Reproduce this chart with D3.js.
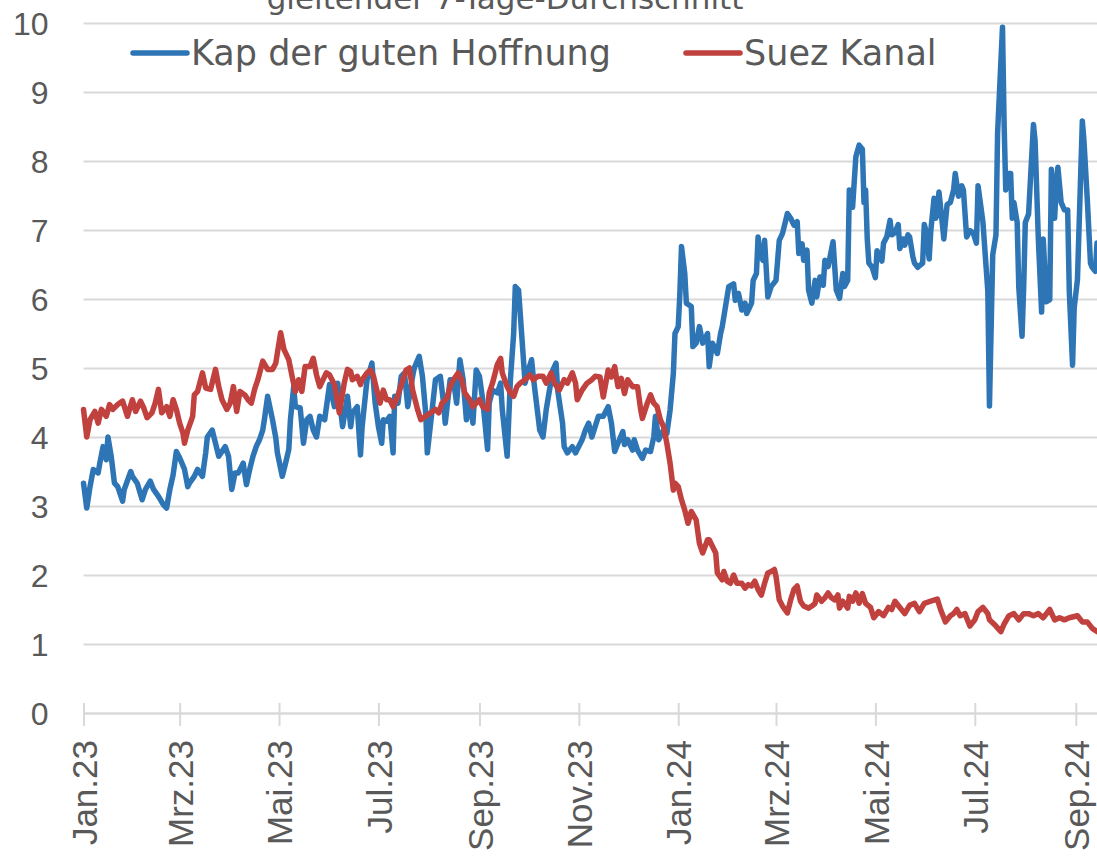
<!DOCTYPE html>
<html lang="de">

<head>
  <meta charset="UTF-8">
  <title>Kap der guten Hoffnung vs. Suez Kanal</title>

  <style>
    body {
      margin: 0;
      background: #fff;
    }

    svg {
      display: block;
      font-family: "DejaVu Sans", sans-serif;
    }

    .grid line {
      stroke: #d9d9d9;
      stroke-width: 2;
    }

    .axis text {
      fill: #595959;
      font-size: 32px;
    }

    .x-axis text {
      font-size: 35px;
    }

    .series {
      fill: none;
      stroke-width: 5.5;
      stroke-linejoin: round;
      stroke-linecap: round;
    }

    .legend text {
      fill: #595959;
      font-size: 35px;
    }
  </style>
</head>

<body>
  <div id="chart"></div>

  <script src="https://cdn.jsdelivr.net/npm/d3@7"></script>

  <script>
    // data: [Tage seit 01.01.2023, Wert], gleitender 7-Tage-Durchschnitt
    const titleText = "gleitender 7-Tage-Durchschnitt";
    const seriesNames = ["Kap der guten Hoffnung", "Suez Kanal"];
    const seriesColors = ["#2e75b6", "#c0413d"];
    const monthNames = ["Jan", "Feb", "Mrz", "Apr", "Mai", "Jun", "Jul", "Aug", "Sep", "Okt", "Nov", "Dez"];
    const yTicks = [0, 1, 2, 3, 4, 5, 6, 7, 8, 9, 10];
    const startDate = new Date(2023, 0, 1);
    const lastDay = 622;

    const kap = [[0,3.33],[2,2.97],[4,3.28],[6,3.53],[9,3.48],[10,3.62],[12,3.86],[14,3.67],[15,4.0],[17,3.72],[19,3.33],[21,3.28],[24,3.07],[25,3.24],[29,3.5],[30,3.43],[33,3.33],[36,3.09],[38,3.24],[41,3.36],[43,3.24],[46,3.14],[49,3.02],[51,2.97],[53,3.24],[55,3.45],[57,3.79],[59,3.70],[62,3.53],[64,3.28],[65,3.33],[68,3.43],[70,3.53],[73,3.43],[75,3.77],[76,4.0],[79,4.1],[81,3.91],[83,3.72],[87,3.86],[89,3.72],[91,3.24],[93,3.48],[95,3.48],[98,3.62],[100,3.31],[102,3.53],[104,3.72],[106,3.86],[108,3.96],[110,4.1],[111,4.25],[113,4.59],[116,4.25],[118,3.99],[119,3.77],[122,3.43],[124,3.62],[126,3.82],[127,4.25],[129,4.73],[130,4.44],[133,4.42],[135,3.91],[137,4.25],[139,4.3],[141,4.1],[143,4.0],[145,4.3],[148,4.25],[151,4.76],[154,4.44],[156,4.78],[159,4.15],[162,4.59],
      [164,4.15],[165,4.35],[168,4.44],[170,3.74],[171,4.15],[174,4.83],[177,5.07],[179,4.49],[181,4.15],[183,3.91],[184,4.25],[186,4.23],[188,4.3],[190,3.77],[191,4.59],[193,4.49],[195,4.88],[197,4.93],[199,4.44],[202,4.88],[203,5.0],[206,5.17],[208,4.88],[210,4.35],[211,3.77],[214,4.4],[216,4.83],[219,4.88],[221,4.49],[222,4.2],[225,4.83],[227,4.83],[229,4.49],[231,5.12],[233,4.83],[235,4.25],[237,4.54],[239,4.2],[241,4.97],[243,4.88],[245,4.54],[248,3.82],[249,4.49],[251,4.68],[254,4.64],[256,4.78],[257,4.4],[260,3.72],[262,4.83],[264,5.5],[265,6.18],[267,6.13],[269,5.46],[271,4.78],[273,4.97],[275,5.12],[276,4.88],[278,4.49],[280,4.1],[282,4.0],[284,4.4],[286,4.68],[288,4.97],[290,5.07],[291,4.68],[294,4.2],[295,3.86],[297,3.77],[300,3.86],[302,3.77],[303,3.82],[306,3.96],[308,4.1],[310,4.2],[312,4.0],[314,4.15],[316,4.3],
      [319,4.3],[322,4.44],[324,4.2],[326,3.79],[328,3.91],[331,4.08],[332,3.89],[334,3.96],[337,3.81],[338,3.96],[340,3.81],[343,3.69],[345,3.81],[348,3.79],[350,4.0],[351,4.3],[353,3.96],[356,4.1],[358,4.05],[360,4.39],[362,4.92],[363,5.5],[365,5.6],[366,6.08],[367,6.76],[369,6.37],[370,5.94],[373,5.89],[374,5.31],[376,5.36],[378,5.6],[380,5.36],[381,5.4],[383,5.5],[384,5.02],[386,5.36],[389,5.21],[391,5.5],[392,5.6],[394,5.89],[396,6.18],[399,6.22],[400,5.98],[402,6.08],[404,5.84],[406,5.94],[407,5.79],[410,5.94],[411,6.27],[413,6.37],[414,6.9],[415,6.66],[417,6.56],[418,6.85],[420,6.03],[422,6.18],[425,6.27],[427,6.85],[429,6.95],[432,7.24],[434,7.17],[436,7.07],[438,7.12],[439,6.66],[441,6.8],[442,6.56],[444,6.71],[445,6.13],[447,5.94],[449,6.27],[450,6.03],[452,6.32],[454,6.2],[455,6.56],[457,6.47],[460,6.83],[462,6.13],[464,6.01],[466,6.37],[467,6.18],[469,6.27],
      [470,7.58],[472,7.33],[474,8.06],[476,8.23],[478,8.17],[479,7.4],[480,7.58],[481,6.87],[482,6.52],[484,6.46],[486,6.31],[487,6.7],[490,6.55],[491,6.81],[493,6.9],[495,7.14],[496,6.93],[498,6.96],[500,7.08],[501,6.73],[503,6.87],[504,6.78],[506,6.93],[507,6.9],[509,6.61],[510,6.52],[512,6.46],[515,6.52],[516,7.08],[517,6.99],[519,6.58],[520,6.99],[522,7.46],[523,7.17],[524,7.23],[525,7.55],[527,7.11],[528,6.87],[530,7.37],[532,7.4],[534,7.58],[535,7.82],[537,7.49],[539,7.64],[540,7.58],[542,6.9],[544,6.99],[546,6.96],[548,6.81],[549,7.64],[551,7.29],[552,7.11],[555,6.11],[556,4.45],[558,6.64],[560,6.93],[561,8.41],[564,9.94],[565,8.53],[566,7.58],[567,7.82],[569,7.82],[570,7.17],[571,7.4],[573,7.11],[574,6.17],[576,5.46],[577,6.17],[578,7.11],[580,7.23],[583,8.53],[584,8.29],[586,6.87],[588,5.81],[589,6.87],[591,5.96],[593,5.99],[594,7.88],[596,7.17],[597,7.64],[598,7.91],[600,7.4],[602,7.29],[604,7.29],[605,6.11],[607,5.04],[608,5.87],[610,6.28],[613,8.58],[614,8.29],[616,7.46],[618,6.52],[619,6.46],[621,6.4],[622,6.81]];

    const suez = [[0,4.40],[2,4.0],[4,4.25],[7,4.37],[9,4.2],[11,4.40],[14,4.3],[16,4.47],[18,4.40],[21,4.47],[24,4.52],[27,4.3],[30,4.54],[32,4.37],[35,4.52],[37,4.42],[39,4.28],[42,4.35],[44,4.49],[46,4.69],[48,4.35],[51,4.44],[53,4.3],[55,4.54],[57,4.40],[59,4.2],[61,4.06],[62,3.91],[64,4.1],[67,4.3],[68,4.61],[70,4.66],[73,4.93],[75,4.71],[78,4.69],[81,4.98],[83,4.73],[85,4.54],[88,4.40],[90,4.49],[92,4.73],[94,4.37],[96,4.66],[99,4.61],[101,4.54],[103,4.49],[105,4.69],[107,4.83],[110,5.1],[113,4.98],[116,4.98],[118,5.07],[119,5.22],[121,5.51],[123,5.27],[126,5.12],[128,4.88],[130,4.66],[132,4.83],[134,4.66],[136,5.02],[139,5.02],[141,5.14],[143,4.9],[145,4.73],[149,4.93],[151,4.9],[154,4.76],[157,4.35],[160,4.78],[162,4.98],
      [164,4.95],[165,4.83],[168,4.88],[170,4.76],[171,4.83],[174,4.93],[176,4.97],[178,4.88],[180,4.68],[182,4.49],[184,4.68],[186,4.54],[188,4.54],[190,4.44],[192,4.54],[194,4.68],[196,4.83],[198,4.97],[200,5.0],[202,4.68],[205,4.4],[207,4.25],[210,4.3],[213,4.35],[216,4.4],[218,4.35],[220,4.49],[223,4.56],[225,4.73],[227,4.83],[230,4.93],[232,4.83],[234,4.64],[237,4.54],[239,4.44],[241,4.49],[243,4.54],[245,4.44],[248,4.4],[249,4.64],[251,4.78],[254,5.05],[256,5.14],[257,4.93],[260,4.73],[262,4.64],[264,4.59],[266,4.73],[268,4.78],[271,4.83],[274,4.9],[276,4.83],[279,4.88],[282,4.88],[284,4.78],[287,4.93],[289,4.78],[292,4.68],[295,4.83],[297,4.78],[300,4.93],[302,4.78],[303,4.54],[306,4.68],[309,4.78],[312,4.83],[314,4.88],
      [317,4.87],[319,4.58],[322,4.97],[324,4.87],[326,5.02],[328,4.73],[330,4.85],[332,4.63],[334,4.83],[337,4.73],[340,4.73],[342,4.39],[343,4.27],[346,4.49],[348,4.61],[350,4.49],[352,4.44],[354,4.25],[356,4.15],[358,3.91],[360,3.62],[362,3.23],[363,3.33],[365,3.28],[367,3.09],[369,2.94],[371,2.75],[373,2.92],[376,2.8],[378,2.46],[380,2.32],[383,2.51],[384,2.51],[388,2.32],[389,2.03],[392,1.93],[393,2.05],[395,1.91],[397,1.88],[399,2.0],[401,1.88],[404,1.88],[406,1.81],[408,1.86],[410,1.84],[412,1.91],[414,1.79],[416,1.71],[418,1.88],[420,2.03],[422,2.05],[424,2.08],[425,1.98],[427,1.64],[429,1.55],[432,1.45],[434,1.64],[436,1.79],[438,1.84],[440,1.62],[442,1.55],[445,1.52],[447,1.55],[449,1.59],[450,1.71],[453,1.62],[455,1.67],[457,1.74],[459,1.67],[461,1.64],[463,1.71],[464,1.52],[466,1.62],[469,1.52],[470,1.69],[472,1.62],
      [474,1.74],[476,1.59],[478,1.73],[480,1.59],[483,1.53],[485,1.38],[488,1.47],[491,1.41],[494,1.53],[496,1.5],[498,1.62],[501,1.53],[504,1.44],[507,1.56],[510,1.59],[513,1.47],[516,1.59],[520,1.62],[524,1.65],[526,1.5],[529,1.32],[532,1.41],[534,1.44],[536,1.5],[538,1.41],[541,1.44],[544,1.26],[547,1.35],[549,1.47],[552,1.53],[555,1.44],[556,1.35],[560,1.26],[563,1.18],[565,1.29],[568,1.41],[571,1.44],[574,1.35],[577,1.44],[580,1.44],[583,1.41],[586,1.44],[589,1.38],[593,1.5],[596,1.35],[599,1.38],[602,1.35],[605,1.38],[610,1.41],[613,1.32],[616,1.32],[619,1.23],[622,1.18]];

    (function () {

      const width = 1097;
      const height = 862;
      const plotLeft = 83.5;
      const plotRight = 1097;
      const plotTop = 23;
      const plotBottom = 713;

      const dayToDate = d => d3.timeDay.offset(startDate, d);

      const x = d3.scaleTime()
        .domain([startDate, dayToDate(lastDay)])
        .range([plotLeft, plotRight]);

      const y = d3.scaleLinear()
        .domain([0, 10])
        .range([plotBottom, plotTop]);

      const svg = d3.select('#chart')
        .append('svg')
        .attr('width', width)
        .attr('height', height);

      // title, cut off at the top like in the original
      svg.append('text')
        .attr('x', 505)
        .attr('y', 9)
        .attr('text-anchor', 'middle')
        .attr('fill', '#595959')
        .style('font-size', '31px')
        .text(titleText);

      // y axis + gridlines
      const yAxis = svg.append('g')
        .attr('class', 'axis grid')
        .attr('transform', `translate(${plotLeft},0)`)
        .call(d3.axisLeft(y)
          .tickValues(yTicks)
          .tickSize(-(plotRight - plotLeft))
          .tickPadding(35)
          .tickFormat(d3.format('d')));
      yAxis.select('.domain').remove();
      yAxis.selectAll('text').attr('dy', '0.36em');

      // x axis
      const xAxis = svg.append('g')
        .attr('class', 'axis x-axis grid')
        .attr('transform', `translate(0,${plotBottom})`)
        .call(d3.axisBottom(x)
          .ticks(d3.timeMonth.every(2))
          .tickSize(13)
          .tickSizeOuter(0)
          .tickFormat(d => monthNames[d.getMonth()] + '.' + String(d.getFullYear()).slice(2)));
      xAxis.select('.domain')
        .attr('stroke', '#d9d9d9')
        .attr('stroke-width', 2);
      xAxis.selectAll('.tick line').attr('y1', -10);
      xAxis.selectAll('text')
        .attr('transform', 'rotate(-90)')
        .attr('x', -27)
        .attr('y', 0)
        .attr('dy', '0.36em')
        .style('text-anchor', 'end');

      // lines
      const line = d3.line()
        .x(d => x(dayToDate(d[0])))
        .y(d => y(d[1]));

      svg.append('g')
        .selectAll('.series')
        .data([kap, suez])
        .enter()
        .append('path')
        .classed('series', true)
        .attr('stroke', (d, i) => seriesColors[i])
        .attr('d', line);

      // legend
      const legendPos = [133, 686];
      const legend = svg.append('g').classed('legend', true);
      const items = legend.selectAll('g')
        .data(seriesNames)
        .enter()
        .append('g')
        .attr('transform', (d, i) => `translate(${legendPos[i]},53)`);
      items.append('line')
        .attr('x1', 0)
        .attr('x2', 54)
        .attr('stroke', (d, i) => seriesColors[i])
        .attr('stroke-width', 5.5)
        .attr('stroke-linecap', 'round');
      items.append('text')
        .attr('x', 58)
        .attr('y', 12)
        .text(d => d);

    })();
  </script>
</body>

</html>
